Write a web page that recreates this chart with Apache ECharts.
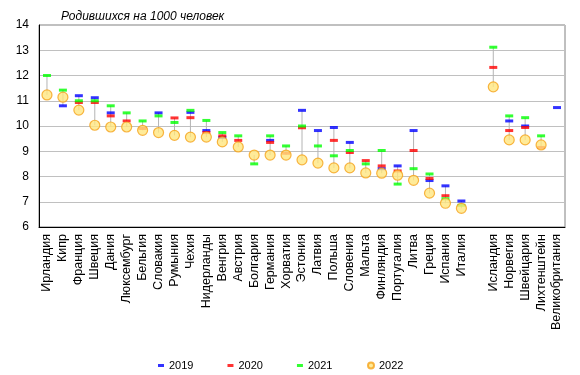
<!DOCTYPE html>
<html>
<head>
<meta charset="utf-8">
<script src="https://cdn.jsdelivr.net/npm/echarts@6/dist/echarts.min.js"></script>
<style>
  html, body { margin: 0; padding: 0; background: #fff; }
  #chart { width: 580px; height: 375px; }
</style>
</head>
<body>
<div id="chart"></div>
<script>
// страны (пустая строка — разрыв между ЕС и остальными)
const countries = ['Ирландия', 'Кипр', 'Франция', 'Швеция', 'Дания', 'Люксембург', 'Бельгия', 'Словакия',
  'Румыния', 'Чехия', 'Нидерланды', 'Венгрия', 'Австрия', 'Болгария', 'Германия', 'Хорватия', 'Эстония',
  'Латвия', 'Польша', 'Словения', 'Мальта', 'Финляндия', 'Португалия', 'Литва', 'Греция', 'Испания',
  'Италия', '', 'Исландия', 'Норвегия', 'Швейцария', 'Лихтенштейн', 'Великобритания']

const y2019 = [null, 10.8, 11.2, 11.12, 10.52, null, null, 10.52, null, 10.54, 9.82, 9.55, null, null, 9.43,
  null, 10.62, 9.82, 9.94, 9.35, null, 8.31, 8.42, 9.82, 7.84, 7.63, 7.03, null, null, 10.2, 10.0, null, 10.73]
const y2020 = [null, null, 10.93, 10.93, 10.4, 10.2, 9.9, null, 10.32, 10.33, 9.74, 9.61, 9.43, null, 9.35,
  8.92, 9.93, null, 9.43, 8.95, 8.63, 8.42, 8.22, 9.03, 7.92, 7.24, null, null, 12.32, 9.82, 9.94, 9.15, null]
const y2021 = [12.0, 11.42, 11.0, 11.0, 10.8, 10.52, 10.2, 10.4, 10.14, 10.62, 10.22, 9.74, 9.61, 8.5, 9.61,
  9.21, 10.0, 9.21, 8.82, 9.03, 8.5, 9.03, 7.7, 8.31, 8.1, 7.12, 6.86, null, 13.12, 10.4, 10.33, 9.61, null]
const y2022 = [11.23, 11.14, 10.63, 10.03, 9.96, 9.96, 9.83, 9.74, 9.63, 9.56, 9.56, 9.37, 9.17, 8.85, 8.85,
  8.85, 8.66, 8.53, 8.34, 8.34, 8.14, 8.13, 8.05, 7.85, 7.34, 6.94, 6.74, null, 11.55, 9.45, 9.45, 9.25, null]

const yTicks = { min: 6, max: 14, step: 1 }

const font = 'Liberation Sans, Arial, sans-serif'

// вертикальная серая линия от минимума до максимума по стране
const rangeData = countries.map((c, i) => {
  const vals = [y2019[i], y2020[i], y2021[i], y2022[i]].filter(v => v != null)
  if (vals.length < 2) return [i, null, null]
  return [i, Math.min(...vals), Math.max(...vals)]
})

function dashSeries(name, data, color) {
  return {
    name,
    type: 'scatter',
    symbol: 'rect',
    symbolSize: [8, 3],
    itemStyle: { color },
    z: 3,
    data,
  }
}

const chart = echarts.init(document.getElementById('chart'))

chart.setOption({
  animation: false,
  textStyle: { fontFamily: font },
  title: {
    text: 'Родившихся на 1000 человек',
    left: 56,
    top: 6,
    textStyle: { fontSize: 12, fontStyle: 'italic', fontWeight: 'normal', color: '#000', fontFamily: font },
  },
  grid: {
    left: 39,
    right: 15,
    top: 25,
    bottom: 148,
    show: true,
    borderColor: '#808080',
    borderWidth: 1,
  },
  legend: [
    {
      data: ['2019', '2020', '2021'],
      icon: 'rect',
      itemWidth: 6,
      itemHeight: 3,
      itemGap: 34,
      left: 153,
      top: 355,
      textStyle: { fontSize: 11, color: '#000', fontFamily: font },
    },
    {
      data: ['2022'],
      icon: 'circle',
      itemWidth: 6,
      itemHeight: 6,
      left: 362,
      top: 355,
      textStyle: { fontSize: 11, color: '#000', fontFamily: font },
    },
  ],
  xAxis: {
    type: 'category',
    data: countries,
    boundaryGap: true,
    axisLine: { lineStyle: { color: '#000', width: 1 } },
    axisTick: { show: false },
    axisLabel: {
      rotate: 90,
      interval: 0,
      margin: 7,
      fontSize: 12.5,
      color: '#000',
      fontFamily: font,
    },
    splitLine: { show: false },
  },
  yAxis: {
    type: 'value',
    min: yTicks.min,
    max: yTicks.max,
    interval: yTicks.step,
    axisLine: { show: true, lineStyle: { color: '#000', width: 1 } },
    axisTick: { show: false },
    axisLabel: { fontSize: 12, color: '#000', margin: 10, fontFamily: font },
    splitLine: { lineStyle: { color: '#c0c0c0', width: 1 } },
  },
  series: [
    {
      name: 'range',
      type: 'custom',
      z: 1,
      silent: true,
      renderItem(params, api) {
        const lo = api.value(1)
        const hi = api.value(2)
        if (lo == null || isNaN(lo)) return
        const p1 = api.coord([api.value(0), lo])
        const p2 = api.coord([api.value(0), hi])
        return {
          type: 'line',
          shape: { x1: p1[0], y1: p1[1], x2: p2[0], y2: p2[1] },
          style: { stroke: '#b4b4b4', lineWidth: 1 },
        }
      },
      encode: { x: 0, y: [1, 2] },
      data: rangeData,
    },
    dashSeries('2019', y2019, '#0000ff'),
    dashSeries('2020', y2020, '#ff0000'),
    dashSeries('2021', y2021, '#00ff00'),
    {
      name: '2022',
      type: 'scatter',
      symbol: 'circle',
      symbolSize: 10,
      z: 4,
      itemStyle: { color: '#ffe680', borderColor: '#f5a31a', borderWidth: 1.2 },
      data: y2022,
    },
  ],
})
</script>
</body>
</html>
